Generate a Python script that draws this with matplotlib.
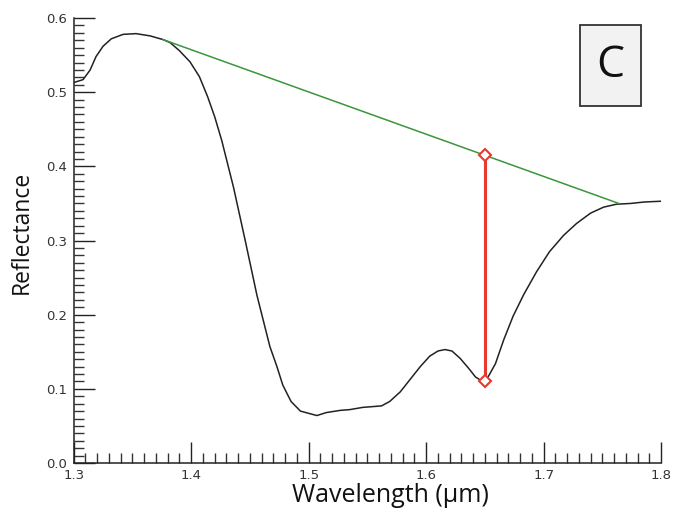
import matplotlib.pyplot as plt
from matplotlib.patches import Rectangle
from matplotlib.ticker import MultipleLocator

# ---------------- data ----------------
wavelength = [1.300, 1.308, 1.314, 1.319, 1.325, 1.332, 1.342, 1.353, 1.365, 1.376,
              1.382, 1.390, 1.399, 1.407, 1.414, 1.420, 1.426, 1.436, 1.446, 1.456,
              1.467, 1.473, 1.478, 1.485, 1.493, 1.500, 1.507, 1.515, 1.527, 1.535,
              1.546, 1.562, 1.569, 1.578, 1.586, 1.595, 1.603, 1.610, 1.616, 1.622,
              1.629, 1.636, 1.642, 1.647, 1.650, 1.652, 1.659, 1.666, 1.674, 1.683,
              1.694, 1.705, 1.717, 1.728, 1.740, 1.751, 1.762, 1.774, 1.786, 1.800]
reflectance = [0.513, 0.517, 0.530, 0.548, 0.562, 0.572, 0.578, 0.579, 0.576, 0.571,
               0.567, 0.556, 0.541, 0.521, 0.494, 0.467, 0.435, 0.372, 0.300, 0.226,
               0.157, 0.130, 0.105, 0.083, 0.070, 0.067, 0.064, 0.068, 0.071, 0.072,
               0.075, 0.077, 0.083, 0.096, 0.112, 0.130, 0.144, 0.151, 0.153, 0.151,
               0.141, 0.128, 0.116, 0.111, 0.111, 0.114, 0.134, 0.166, 0.198, 0.227,
               0.258, 0.285, 0.307, 0.323, 0.337, 0.345, 0.349, 0.350, 0.352, 0.353]

# continuum (green) and band depth (red)
continuum_w = [1.376, 1.764]
continuum_r = [0.571, 0.350]
depth_w = [1.650, 1.650]
depth_r = [0.415, 0.111]

xticks = [1.3, 1.4, 1.5, 1.6, 1.7, 1.8]
yticks = [0.0, 0.1, 0.2, 0.3, 0.4, 0.5, 0.6]

# ---------------- plot ----------------
fig = plt.figure(figsize=(6.76, 5.16), dpi=100)
ax = fig.add_axes([0.109, 0.1027, 0.869, 0.8623])

ax.plot(wavelength, reflectance, color='#222222', linewidth=1.1)
ax.plot(continuum_w, continuum_r, color='#3a963a', linewidth=1.1)
ax.plot(depth_w, depth_r, color='#e8392e', linewidth=2.2,
        marker='D', markersize=6, markerfacecolor='white',
        markeredgecolor='#e8392e', markeredgewidth=1.5)

ax.set_xlim(1.3, 1.8)
ax.set_ylim(0.0, 0.6)
ax.set_xticks(xticks)
ax.set_yticks(yticks)
ax.set_xticklabels([f'{t:.1f}' for t in xticks])
ax.set_yticklabels([f'{t:.1f}' for t in yticks])
ax.xaxis.set_minor_locator(MultipleLocator(0.01))
ax.yaxis.set_minor_locator(MultipleLocator(0.01))

ax.tick_params(which='major', direction='in', length=15, width=1.0,
               color='#222222', labelsize=9.5, labelcolor='#333333')
ax.tick_params(which='minor', direction='in', length=7.5, width=1.0,
               color='#333333')
ax.tick_params(axis='x', which='major', pad=4)
ax.tick_params(axis='y', which='major', pad=5)

ax.spines['top'].set_visible(False)
ax.spines['right'].set_visible(False)
ax.spines['left'].set_linewidth(1.1)
ax.spines['bottom'].set_linewidth(1.1)
ax.spines['left'].set_color('#222222')
ax.spines['bottom'].set_color('#222222')

# axis labels (Calibri-like look in the original)
ax.set_xlabel('Wavelength (µm)', fontsize=18, family='Open Sans', color='#111111', labelpad=1)
ax.xaxis.label.set_x(0.539)
ax.set_ylabel('Reflectance', fontsize=16.5, family='Open Sans', color='#111111')
ax.yaxis.set_label_coords(-0.068, 0.518)

# panel label box
ax.add_patch(Rectangle((0.862, 0.802), 0.104, 0.182, transform=ax.transAxes,
                       facecolor='#f3f2f2', edgecolor='#333333', linewidth=1.3,
                       clip_on=False))
ax.text(0.914, 0.893, 'C', transform=ax.transAxes, ha='center', va='center',
        fontsize=32, family='Open Sans', color='#111111')

fig.savefig('out.png', dpi=100, facecolor='white')
